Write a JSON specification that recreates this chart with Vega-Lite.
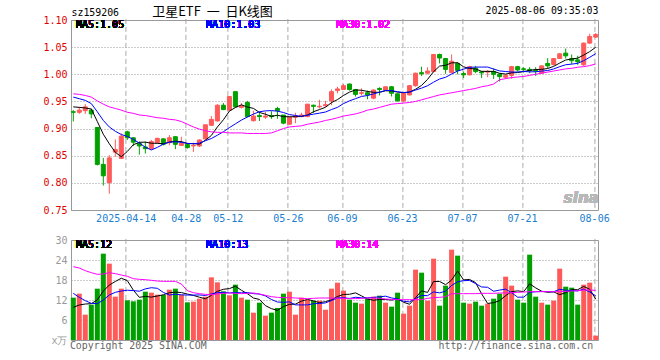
{
"$schema": "https://vega.github.io/schema/vega-lite/v6.json",
"background": "#ffffff",
"padding": {"left": 40, "top": 5, "right": 5, "bottom": 5},
"config": {"view": {"stroke": "#999999", "strokeWidth": 1}, "font": "DejaVu Sans Mono"},
"spacing": 30,
"bounds": "flush",
"datasets": {"k": [
{"d":"2025-03-31","o":0.931,"h":0.934,"l":0.913,"c":0.930,"v":12.7,"m5":0.940,"m10":0.958,"m30":0.964,"vm5":9.8,"vm10":14.0,"vm30":22.0},
{"d":"2025-04-01","o":0.930,"h":0.940,"l":0.927,"c":0.934,"v":13.9,"m5":0.939,"m10":0.955,"m30":0.963,"vm5":10.5,"vm10":12.8,"vm30":21.6},
{"d":"2025-04-02","o":0.933,"h":0.945,"l":0.927,"c":0.940,"v":7.6,"m5":0.938,"m10":0.952,"m30":0.961,"vm5":10.8,"vm10":11.8,"vm30":20.8},
{"d":"2025-04-03","o":0.934,"h":0.937,"l":0.919,"c":0.927,"v":10.6,"m5":0.936,"m10":0.946,"m30":0.958,"vm5":10.9,"vm10":11.0,"vm30":20.2},
{"d":"2025-04-07","o":0.902,"h":0.903,"l":0.832,"c":0.834,"v":15.4,"m5":0.913,"m10":0.931,"m30":0.951,"vm5":12.04,"vm10":10.9,"vm30":19.7},
{"d":"2025-04-08","o":0.834,"h":0.846,"l":0.795,"c":0.813,"v":25.9,"m5":0.8896,"m10":0.915,"m30":0.945,"vm5":14.68,"vm10":12.0,"vm30":19.8},
{"d":"2025-04-09","o":0.8005,"h":0.851,"l":0.780,"c":0.846,"v":22.9,"m5":0.872,"m10":0.903,"m30":0.940,"vm5":16.48,"vm10":13.5,"vm30":20.2},
{"d":"2025-04-10","o":0.8566,"h":0.880,"l":0.848,"c":0.8615,"v":13.0,"m5":0.8563,"m10":0.895,"m30":0.937,"vm5":17.56,"vm10":14.3,"vm30":19.9},
{"d":"2025-04-11","o":0.845,"h":0.891,"l":0.844,"c":0.886,"v":15.4,"m5":0.8481,"m10":0.889,"m30":0.934,"vm5":18.52,"vm10":14.7,"vm30":19.5},
{"d":"2025-04-14","o":0.894,"h":0.896,"l":0.879,"c":0.883,"v":11.9,"m5":0.8579,"m10":0.8855,"m30":0.930,"vm5":17.82,"vm10":14.93,"vm30":19.1},
{"d":"2025-04-15","o":0.883,"h":0.884,"l":0.868,"c":0.875,"v":11.6,"m5":0.8703,"m10":0.880,"m30":0.928,"vm5":14.96,"vm10":14.82,"vm30":18.4},
{"d":"2025-04-16","o":0.873,"h":0.876,"l":0.852,"c":0.868,"v":12.1,"m5":0.8747,"m10":0.8734,"m30":0.925,"vm5":12.8,"vm10":14.64,"vm30":18.2},
{"d":"2025-04-17","o":0.866,"h":0.876,"l":0.854,"c":0.863,"v":14.5,"m5":0.875,"m10":0.8657,"m30":0.924,"vm5":13.1,"vm10":15.33,"vm30":18.1},
{"d":"2025-04-18","o":0.863,"h":0.879,"l":0.861,"c":0.876,"v":14.2,"m5":0.873,"m10":0.8606,"m30":0.922,"vm5":12.86,"vm10":15.69,"vm30":17.9},
{"d":"2025-04-21","o":0.874,"h":0.883,"l":0.872,"c":0.882,"v":13.6,"m5":0.8728,"m10":0.8654,"m30":0.920,"vm5":13.2,"vm10":15.51,"vm30":17.7},
{"d":"2025-04-22","o":0.881,"h":0.882,"l":0.869,"c":0.871,"v":13.5,"m5":0.872,"m10":0.8712,"m30":0.919,"vm5":13.58,"vm10":14.27,"vm30":17.6},
{"d":"2025-04-23","o":0.874,"h":0.888,"l":0.869,"c":0.883,"v":15.1,"m5":0.875,"m10":0.8749,"m30":0.917,"vm5":14.18,"vm10":13.49,"vm30":17.6},
{"d":"2025-04-24","o":0.885,"h":0.886,"l":0.862,"c":0.871,"v":15.4,"m5":0.8766,"m10":0.8758,"m30":0.916,"vm5":14.36,"vm10":13.73,"vm30":17.6},
{"d":"2025-04-25","o":0.869,"h":0.885,"l":0.868,"c":0.873,"v":13.6,"m5":0.876,"m10":0.8745,"m30":0.913,"vm5":14.24,"vm10":13.55,"vm30":16.8},
{"d":"2025-04-28","o":0.871,"h":0.873,"l":0.863,"c":0.865,"v":11.3,"m5":0.8726,"m10":0.8727,"m30":0.908,"vm5":13.78,"vm10":13.49,"vm30":14.8},
{"d":"2025-04-29","o":0.868,"h":0.874,"l":0.857,"c":0.869,"v":11.5,"m5":0.8722,"m10":0.8721,"m30":0.903,"vm5":13.38,"vm10":13.48,"vm30":14.2},
{"d":"2025-04-30","o":0.868,"h":0.880,"l":0.866,"c":0.879,"v":12.4,"m5":0.8714,"m10":0.8732,"m30":0.899,"vm5":12.84,"vm10":13.51,"vm30":13.9},
{"d":"2025-05-06","o":0.881,"h":0.907,"l":0.879,"c":0.907,"v":13.0,"m5":0.8786,"m10":0.8776,"m30":0.896,"vm5":12.36,"vm10":13.36,"vm30":13.7},
{"d":"2025-05-07","o":0.906,"h":0.923,"l":0.906,"c":0.917,"v":18.8,"m5":0.8874,"m10":0.8817,"m30":0.894,"vm5":13.4,"vm10":13.82,"vm30":13.6},
{"d":"2025-05-08","o":0.914,"h":0.945,"l":0.913,"c":0.943,"v":17.3,"m5":0.903,"m10":0.8878,"m30":0.893,"vm5":14.6,"vm10":14.19,"vm30":13.8},
{"d":"2025-05-09","o":0.943,"h":0.947,"l":0.934,"c":0.935,"v":14.6,"m5":0.9162,"m10":0.8942,"m30":0.893,"vm5":15.22,"vm10":14.3,"vm30":14.0},
{"d":"2025-05-12","o":0.934,"h":0.959,"l":0.933,"c":0.959,"v":13.4,"m5":0.9322,"m10":0.9018,"m30":0.892,"vm5":15.42,"vm10":14.13,"vm30":14.1},
{"d":"2025-05-13","o":0.968,"h":0.968,"l":0.939,"c":0.940,"v":16.6,"m5":0.9388,"m10":0.9087,"m30":0.892,"vm5":16.14,"vm10":14.25,"vm30":14.0},
{"d":"2025-05-14","o":0.939,"h":0.947,"l":0.937,"c":0.942,"v":12.7,"m5":0.9438,"m10":0.9156,"m30":0.892,"vm5":14.92,"vm10":14.16,"vm30":13.9},
{"d":"2025-05-15","o":0.948,"h":0.951,"l":0.921,"c":0.922,"v":12.1,"m5":0.9396,"m10":0.9213,"m30":0.891,"vm5":13.88,"vm10":14.24,"vm30":14.0},
{"d":"2025-05-16","o":0.9145,"h":0.933,"l":0.913,"c":0.923,"v":8.2,"m5":0.9372,"m10":0.9267,"m30":0.891,"vm5":12.6,"vm10":13.91,"vm30":14.1},
{"d":"2025-05-19","o":0.924,"h":0.931,"l":0.914,"c":0.922,"v":11.2,"m5":0.9298,"m10":0.931,"m30":0.891,"vm5":12.16,"vm10":13.79,"vm30":13.8},
{"d":"2025-05-20","o":0.921,"h":0.931,"l":0.918,"c":0.923,"v":7.3,"m5":0.9264,"m10":0.9326,"m30":0.891,"vm5":10.3,"vm10":13.22,"vm30":13.4},
{"d":"2025-05-21","o":0.924,"h":0.932,"l":0.918,"c":0.922,"v":8.2,"m5":0.9224,"m10":0.9331,"m30":0.892,"vm5":9.4,"vm10":12.16,"vm30":13.0},
{"d":"2025-05-22","o":0.937,"h":0.940,"l":0.918,"c":0.933,"v":9.6,"m5":0.9246,"m10":0.9321,"m30":0.896,"vm5":8.9,"vm10":11.39,"vm30":12.8},
{"d":"2025-05-23","o":0.925,"h":0.925,"l":0.908,"c":0.910,"v":13.9,"m5":0.922,"m10":0.9296,"m30":0.900,"vm5":10.04,"vm10":11.32,"vm30":12.7},
{"d":"2025-05-26","o":0.908,"h":0.922,"l":0.907,"c":0.921,"v":14.5,"m5":0.9218,"m10":0.9258,"m30":0.903,"vm5":10.7,"vm10":11.43,"vm30":12.7},
{"d":"2025-05-27","o":0.921,"h":0.929,"l":0.910,"c":0.923,"v":7.6,"m5":0.9218,"m10":0.9241,"m30":0.904,"vm5":10.76,"vm10":10.53,"vm30":12.6},
{"d":"2025-05-28","o":0.922,"h":0.929,"l":0.921,"c":0.925,"v":12.7,"m5":0.9224,"m10":0.9224,"m30":0.905,"vm5":11.66,"vm10":10.53,"vm30":12.5},
{"d":"2025-05-29","o":0.922,"h":0.945,"l":0.921,"c":0.945,"v":12.1,"m5":0.9248,"m10":0.9247,"m30":0.908,"vm5":12.16,"vm10":10.53,"vm30":12.4},
{"d":"2025-05-30","o":0.943,"h":0.944,"l":0.929,"c":0.941,"v":11.8,"m5":0.931,"m10":0.9265,"m30":0.910,"vm5":11.74,"vm10":10.89,"vm30":12.5},
{"d":"2025-06-03","o":0.940,"h":0.953,"l":0.937,"c":0.941,"v":11.8,"m5":0.935,"m10":0.9284,"m30":0.912,"vm5":11.2,"vm10":10.95,"vm30":12.6},
{"d":"2025-06-04","o":0.942,"h":0.951,"l":0.940,"c":0.944,"v":9.1,"m5":0.9392,"m10":0.9305,"m30":0.915,"vm5":11.5,"vm10":11.13,"vm30":12.6},
{"d":"2025-06-05","o":0.951,"h":0.972,"l":0.943,"c":0.968,"v":15.4,"m5":0.9478,"m10":0.9351,"m30":0.917,"vm5":12.04,"vm10":11.85,"vm30":12.6},
{"d":"2025-06-06","o":0.970,"h":0.977,"l":0.965,"c":0.973,"v":17.2,"m5":0.9534,"m10":0.9391,"m30":0.920,"vm5":13.06,"vm10":12.61,"vm30":12.5},
{"d":"2025-06-09","o":0.972,"h":0.982,"l":0.971,"c":0.979,"v":14.8,"m5":0.961,"m10":0.946,"m30":0.923,"vm5":13.66,"vm10":12.7,"vm30":12.5},
{"d":"2025-06-10","o":0.982,"h":0.983,"l":0.970,"c":0.972,"v":12.1,"m5":0.9672,"m10":0.9511,"m30":0.925,"vm5":13.72,"vm10":12.46,"vm30":12.4},
{"d":"2025-06-11","o":0.972,"h":0.973,"l":0.959,"c":0.963,"v":11.2,"m5":0.971,"m10":0.9551,"m30":0.927,"vm5":14.14,"vm10":12.82,"vm30":12.4},
{"d":"2025-06-12","o":0.965,"h":0.974,"l":0.961,"c":0.966,"v":10.9,"m5":0.9706,"m10":0.9592,"m30":0.930,"vm5":13.24,"vm10":12.64,"vm30":12.5},
{"d":"2025-06-13","o":0.966,"h":0.970,"l":0.954,"c":0.962,"v":12.4,"m5":0.9684,"m10":0.9609,"m30":0.934,"vm5":12.28,"vm10":12.67,"vm30":12.6},
{"d":"2025-06-16","o":0.956,"h":0.972,"l":0.954,"c":0.971,"v":13.0,"m5":0.9668,"m10":0.9639,"m30":0.936,"vm5":11.92,"vm10":12.79,"vm30":12.6},
{"d":"2025-06-17","o":0.974,"h":0.976,"l":0.961,"c":0.972,"v":13.3,"m5":0.9668,"m10":0.967,"m30":0.939,"vm5":12.16,"vm10":12.94,"vm30":12.5},
{"d":"2025-06-18","o":0.971,"h":0.977,"l":0.970,"c":0.977,"v":11.2,"m5":0.9696,"m10":0.9703,"m30":0.942,"vm5":12.16,"vm10":13.15,"vm30":12.3},
{"d":"2025-06-19","o":0.977,"h":0.978,"l":0.959,"c":0.965,"v":10.0,"m5":0.9694,"m10":0.970,"m30":0.945,"vm5":11.98,"vm10":12.61,"vm30":12.2},
{"d":"2025-06-20","o":0.964,"h":0.965,"l":0.950,"c":0.951,"v":14.2,"m5":0.9672,"m10":0.9678,"m30":0.946,"vm5":12.34,"vm10":12.31,"vm30":12.1},
{"d":"2025-06-23","o":0.951,"h":0.966,"l":0.949,"c":0.965,"v":7.9,"m5":0.966,"m10":0.9664,"m30":0.947,"vm5":11.32,"vm10":11.62,"vm30":12.1},
{"d":"2025-06-24","o":0.962,"h":0.980,"l":0.961,"c":0.979,"v":10.3,"m5":0.9674,"m10":0.9671,"m30":0.948,"vm5":10.72,"vm10":11.44,"vm30":12.1},
{"d":"2025-06-25","o":0.979,"h":1.003,"l":0.977,"c":1.002,"v":21.1,"m5":0.9724,"m10":0.971,"m30":0.950,"vm5":12.7,"vm10":12.43,"vm30":12.1},
{"d":"2025-06-26","o":1.003,"h":1.014,"l":0.997,"c":1.001,"v":20.2,"m5":0.9796,"m10":0.9745,"m30":0.953,"vm5":14.74,"vm10":13.36,"vm30":12.1},
{"d":"2025-06-27","o":1.002,"h":1.013,"l":1.000,"c":1.006,"v":11.8,"m5":0.9906,"m10":0.9789,"m30":0.956,"vm5":14.26,"vm10":13.3,"vm30":12.5},
{"d":"2025-06-30","o":1.005,"h":1.037,"l":1.004,"c":1.0365,"v":24.4,"m5":1.0049,"m10":0.9855,"m30":0.959,"vm5":17.56,"vm10":14.44,"vm30":12.7},
{"d":"2025-07-01","o":1.0365,"h":1.038,"l":1.020,"c":1.030,"v":10.3,"m5":1.0151,"m10":0.9913,"m30":0.962,"vm5":17.56,"vm10":14.14,"vm30":12.8},
{"d":"2025-07-02","o":1.029,"h":1.030,"l":1.001,"c":1.009,"v":16.3,"m5":1.0165,"m10":0.9945,"m30":0.964,"vm5":16.6,"vm10":14.65,"vm30":13.0},
{"d":"2025-07-03","o":1.003,"h":1.0365,"l":1.002,"c":1.024,"v":27.1,"m5":1.0211,"m10":1.0004,"m30":0.966,"vm5":17.98,"vm10":16.36,"vm30":13.9},
{"d":"2025-07-04","o":1.020,"h":1.022,"l":1.000,"c":1.007,"v":25.3,"m5":1.0213,"m10":1.006,"m30":0.968,"vm5":20.68,"vm10":17.47,"vm30":13.9},
{"d":"2025-07-07","o":1.0015,"h":1.005,"l":0.993,"c":0.999,"v":11.2,"m5":1.0138,"m10":1.0094,"m30":0.970,"vm5":18.04,"vm10":17.8,"vm30":13.9},
{"d":"2025-07-08","o":0.999,"h":1.0155,"l":0.998,"c":1.014,"v":10.9,"m5":1.0106,"m10":1.0129,"m30":0.972,"vm5":18.16,"vm10":17.86,"vm30":13.9},
{"d":"2025-07-09","o":1.011,"h":1.0155,"l":1.002,"c":1.005,"v":11.5,"m5":1.0098,"m10":1.0132,"m30":0.974,"vm5":17.2,"vm10":16.9,"vm30":13.9},
{"d":"2025-07-10","o":1.0045,"h":1.006,"l":0.993,"c":1.0026,"v":10.3,"m5":1.0055,"m10":1.0133,"m30":0.977,"vm5":13.84,"vm10":15.91,"vm30":14.0},
{"d":"2025-07-11","o":1.004,"h":1.008,"l":0.9946,"c":1.0056,"v":10.9,"m5":1.0052,"m10":1.0133,"m30":0.979,"vm5":10.96,"vm10":15.82,"vm30":14.0},
{"d":"2025-07-14","o":1.005,"h":1.011,"l":0.9915,"c":1.000,"v":12.4,"m5":1.0054,"m10":1.0096,"m30":0.982,"vm5":11.2,"vm10":14.62,"vm30":14.0},
{"d":"2025-07-15","o":1.000,"h":1.002,"l":0.9866,"c":0.9958,"v":13.9,"m5":1.0018,"m10":1.0062,"m30":0.990,"vm5":11.8,"vm10":14.98,"vm30":14.1},
{"d":"2025-07-16","o":0.9945,"h":1.000,"l":0.9915,"c":0.998,"v":19.0,"m5":1.0004,"m10":1.0051,"m30":0.992,"vm5":13.3,"vm10":15.25,"vm30":14.1},
{"d":"2025-07-17","o":0.998,"h":1.0155,"l":0.9915,"c":1.014,"v":16.3,"m5":1.0027,"m10":1.0041,"m30":0.994,"vm5":14.5,"vm10":14.17,"vm30":14.2},
{"d":"2025-07-18","o":1.014,"h":1.0155,"l":1.005,"c":1.008,"v":12.1,"m5":1.0032,"m10":1.0042,"m30":0.995,"vm5":14.74,"vm10":12.85,"vm30":14.3},
{"d":"2025-07-21","o":1.010,"h":1.013,"l":1.003,"c":1.009,"v":11.2,"m5":1.005,"m10":1.0052,"m30":0.996,"vm5":14.5,"vm10":12.85,"vm30":14.4},
{"d":"2025-07-22","o":1.009,"h":1.013,"l":1.002,"c":1.007,"v":25.6,"m5":1.0072,"m10":1.0045,"m30":0.998,"vm5":16.84,"vm10":14.32,"vm30":14.5},
{"d":"2025-07-23","o":1.0075,"h":1.013,"l":0.997,"c":1.006,"v":13.0,"m5":1.0088,"m10":1.0046,"m30":1.000,"vm5":15.64,"vm10":14.47,"vm30":14.5},
{"d":"2025-07-24","o":1.002,"h":1.016,"l":1.001,"c":1.0155,"v":11.2,"m5":1.0091,"m10":1.0059,"m30":1.002,"vm5":14.62,"vm10":14.56,"vm30":14.5},
{"d":"2025-07-25","o":1.020,"h":1.0297,"l":1.011,"c":1.0155,"v":10.6,"m5":1.0106,"m10":1.0069,"m30":1.004,"vm5":14.32,"vm10":14.53,"vm30":14.5},
{"d":"2025-07-28","o":1.018,"h":1.030,"l":1.016,"c":1.029,"v":11.8,"m5":1.0146,"m10":1.0098,"m30":1.006,"vm5":14.44,"vm10":14.47,"vm30":14.5},
{"d":"2025-07-29","o":1.029,"h":1.039,"l":1.028,"c":1.0377,"v":21.4,"m5":1.0207,"m10":1.014,"m30":1.008,"vm5":13.6,"vm10":15.22,"vm30":14.5},
{"d":"2025-07-30","o":1.039,"h":1.0475,"l":1.029,"c":1.034,"v":16.0,"m5":1.0263,"m10":1.0176,"m30":1.010,"vm5":14.2,"vm10":14.92,"vm30":14.6},
{"d":"2025-07-31","o":1.029,"h":1.0365,"l":1.019,"c":1.025,"v":15.7,"m5":1.0282,"m10":1.0187,"m30":1.011,"vm5":15.1,"vm10":14.86,"vm30":14.7},
{"d":"2025-08-01","o":1.0266,"h":1.034,"l":1.0174,"c":1.023,"v":10.6,"m5":1.0297,"m10":1.0202,"m30":1.013,"vm5":15.1,"vm10":14.71,"vm30":14.8},
{"d":"2025-08-04","o":1.0174,"h":1.0586,"l":1.0155,"c":1.0574,"v":16.6,"m5":1.0354,"m10":1.025,"m30":1.014,"vm5":16.06,"vm10":15.25,"vm30":15.0},
{"d":"2025-08-05","o":1.0574,"h":1.0746,"l":1.056,"c":1.0697,"v":17.2,"m5":1.0418,"m10":1.0313,"m30":1.016,"vm5":15.22,"vm10":14.41,"vm30":15.0},
{"d":"2025-08-06","o":1.0685,"h":1.0759,"l":1.067,"c":1.0734,"v":1.3,"m5":1.0497,"m10":1.038,"m30":1.019,"vm5":12.28,"vm10":13.24,"vm30":14.9}
]},
"vconcat": [
{
"width": 527, "height": 190,
"data": {"name": "k"},
"encoding": {
  "x": {"field": "d", "type": "ordinal", "scale": {"type": "point", "padding": 0.38},
    "axis": {"values": ["2025-04-14","2025-04-28","2025-05-12","2025-05-26","2025-06-09","2025-06-23","2025-07-07","2025-07-21","2025-08-06"],
      "labelExpr": "datum.value == '2025-04-14' ? datum.value : slice(datum.value, 5)",
      "labelColor": "#1a80d0", "labelFont": "DejaVu Sans Mono", "labelFontSize": 10, "labelAngle": 0,
      "labelPadding": 5, "labelOverlap": false, "ticks": false, "domain": false,
      "grid": true, "gridDash": [5, 3], "gridColor": "#aaaaaa", "translate": -1.1,
      "title": "2025-08-06 09:35:03", "titleFont": "DejaVu Sans Mono", "titleFontSize": 9.9, "titleFontWeight": "normal",
      "titleColor": "#000000", "titleAngle": 0, "titleAlign": "right", "titleBaseline": "middle",
      "titleX": 528.6, "titleY": -197.5}}
},
"layer": [
  {"mark": {"type": "rule", "strokeWidth": 1},
   "encoding": {
     "y": {"field": "l", "type": "quantitative", "scale": {"domain": [0.75, 1.10], "nice": false, "zero": false},
       "axis": {"values": [0.75,0.8,0.85,0.9,0.95,1.0,1.05,1.1], "tickCount": 20, "format": ".2f", "labelColor": "#e00000",
         "labelFont": "DejaVu Sans Mono", "labelFontSize": 10, "labelPadding": 4, "labelOverlap": false, "grid": true, "gridDash": [1, 2],
         "gridColor": "#999999", "ticks": false, "domain": false, "minExtent": 30, "maxExtent": 30,
         "title": "卫星ETF\u00a0\u00a0一\u00a0\u00a0日K线图", "titleFont": "Noto Sans CJK SC", "titleFontSize": 13, "titleFontWeight": "normal",
         "titleColor": "#000000", "titleAngle": 0, "titleAlign": "left", "titleBaseline": "middle",
         "titleX": 80.7, "titleY": -8.2}},
     "y2": {"field": "h"},
     "color": {"condition": {"test": "datum.c >= datum.o", "value": "#ff5a5a"}, "value": "#00a000"}}},
  {"mark": {"type": "bar", "size": 4, "strokeWidth": 1},
   "encoding": {
     "y": {"field": "o", "type": "quantitative"},
     "y2": {"field": "c"},
     "color": {"condition": {"test": "datum.c >= datum.o", "value": "#ff5a5a"}, "value": "#00a000"},
     "stroke": {"condition": {"test": "datum.c >= datum.o", "value": "#ff5a5a"}, "value": "#00a000"}}},
  {"mark": {"type": "line", "color": "#000000", "strokeWidth": 1}, "encoding": {"y": {"field": "m5", "type": "quantitative"}}},
  {"mark": {"type": "line", "color": "#0000ff", "strokeWidth": 1}, "encoding": {"y": {"field": "m10", "type": "quantitative"}}},
  {"mark": {"type": "line", "color": "#ff00ff", "strokeWidth": 1}, "encoding": {"y": {"field": "m30", "type": "quantitative"}}},
  {"mark": {"type": "text", "text": "MA5:1.05", "align": "left", "baseline": "middle", "dx": 2.7, "color": "#000000", "font": "DejaVu Sans Mono", "fontSize": 10},
   "encoding": {"x": {"datum": "2025-03-31"}, "y": {"datum": 1.090}}},
  {"mark": {"type": "text", "text": "MA10:1.03", "align": "left", "baseline": "middle", "dx": 0.7, "color": "#0000ff", "font": "DejaVu Sans Mono", "fontSize": 10},
   "encoding": {"x": {"datum": "2025-05-06"}, "y": {"datum": 1.090}}},
  {"mark": {"type": "text", "text": "MA30:1.02", "align": "left", "baseline": "middle", "dx": -1.3, "color": "#ff00ff", "font": "DejaVu Sans Mono", "fontSize": 10},
   "encoding": {"x": {"datum": "2025-06-06"}, "y": {"datum": 1.090}}},
  {"mark": {"type": "text", "text": "sina", "align": "right", "baseline": "middle", "dx": 3, "color": "#b8b8b8", "font": "DejaVu Sans", "fontSize": 15, "fontWeight": "bold", "fontStyle": "italic"},
   "encoding": {"x": {"datum": "2025-08-06"}, "y": {"datum": 0.772}}}
]
},
{
"width": 527, "height": 100,
"data": {"name": "k"},
"encoding": {
  "x": {"field": "d", "type": "ordinal", "scale": {"type": "point", "padding": 0.38},
    "axis": {"values": ["2025-04-14","2025-04-28","2025-05-12","2025-05-26","2025-06-09","2025-06-23","2025-07-07","2025-07-21","2025-08-06"],
      "labels": false, "ticks": false, "domain": false,
      "grid": true, "gridDash": [5, 3], "gridColor": "#aaaaaa", "translate": -1.1,
      "title": "Copyright 2025 SINA.COM\u00a0\u00a0\u00a0\u00a0\u00a0\u00a0\u00a0\u00a0\u00a0\u00a0\u00a0\u00a0\u00a0\u00a0\u00a0\u00a0\u00a0\u00a0\u00a0\u00a0\u00a0\u00a0\u00a0\u00a0\u00a0\u00a0\u00a0\u00a0\u00a0\u00a0\u00a0\u00a0\u00a0\u00a0\u00a0\u00a0\u00a0\u00a0\u00a0http://finance.sina.com.cn",
      "titleFont": "DejaVu Sans Mono", "titleFontSize": 9.9, "titleFontWeight": "normal", "titleColor": "#666666",
      "titleAnchor": "start", "titlePadding": 2, "titleBaseline": "top"}}
},
"layer": [
  {"mark": {"type": "bar", "size": 5},
   "encoding": {
     "y": {"field": "v", "type": "quantitative", "scale": {"domain": [0, 30], "nice": false},
       "axis": {"values": [0, 6, 12, 18, 24, 30], "tickCount": 20, "labelExpr": "datum.value == 0 ? 'x万' : datum.label",
         "labelColor": "#999999", "labelFont": "DejaVu Sans Mono", "labelFontSize": 10, "labelPadding": 4, "labelOverlap": false,
         "grid": true, "gridDash": [1, 2], "gridColor": "#999999", "ticks": false, "domain": false,
         "minExtent": 30, "maxExtent": 30,
         "title": "sz159206", "titleFont": "DejaVu Sans Mono", "titleFontSize": 9.9, "titleFontWeight": "normal",
         "titleColor": "#000000", "titleAngle": 0, "titleAlign": "left", "titleBaseline": "middle",
         "titleX": 0, "titleY": -227.2}},
     "color": {"condition": {"test": "datum.c >= datum.o", "value": "#ff5a5a"}, "value": "#00a000"}}},
  {"mark": {"type": "line", "color": "#000000", "strokeWidth": 1}, "encoding": {"y": {"field": "vm5", "type": "quantitative"}}},
  {"mark": {"type": "line", "color": "#0000ff", "strokeWidth": 1}, "encoding": {"y": {"field": "vm10", "type": "quantitative"}}},
  {"mark": {"type": "line", "color": "#ff00ff", "strokeWidth": 1}, "encoding": {"y": {"field": "vm30", "type": "quantitative"}}},
  {"mark": {"type": "text", "text": "MA5:12", "align": "left", "baseline": "middle", "dx": 2.7, "color": "#000000", "font": "DejaVu Sans Mono", "fontSize": 10},
   "encoding": {"x": {"datum": "2025-03-31"}, "y": {"datum": 28.4}}},
  {"mark": {"type": "text", "text": "MA10:13", "align": "left", "baseline": "middle", "dx": 0.7, "color": "#0000ff", "font": "DejaVu Sans Mono", "fontSize": 10},
   "encoding": {"x": {"datum": "2025-05-06"}, "y": {"datum": 28.4}}},
  {"mark": {"type": "text", "text": "MA30:14", "align": "left", "baseline": "middle", "dx": -1.3, "color": "#ff00ff", "font": "DejaVu Sans Mono", "fontSize": 10},
   "encoding": {"x": {"datum": "2025-06-06"}, "y": {"datum": 28.4}}}
]
}
]
}
